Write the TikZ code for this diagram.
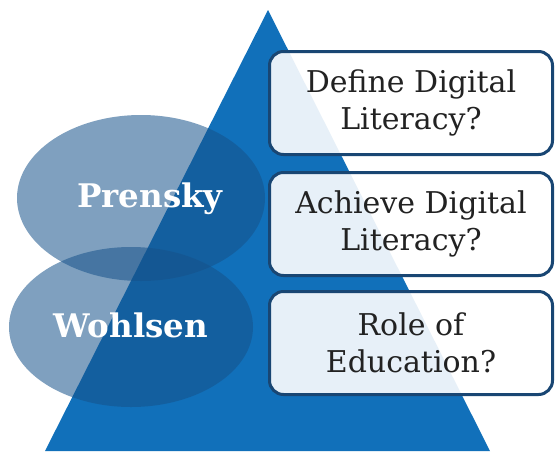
\documentclass[tikz,border=0pt]{standalone}
\usepackage{fontspec}
\setmainfont{DejaVu Serif}
\usetikzlibrary{shapes.geometric}
\definecolor{triblue}{RGB}{17,112,186}
\definecolor{ellblue}{RGB}{22,82,138}
\definecolor{boxline}{RGB}{25,70,115}
\definecolor{txtgray}{RGB}{34,34,34}
\tikzset{
  ellshape/.style={ellipse, fill=ellblue, fill opacity=0.55, draw=none, inner sep=0pt},
  namelabel/.style={text=white, font=\fontsize{32.5}{37}\selectfont\bfseries, inner sep=0pt, anchor=base},
  qbox/.style={draw=boxline, line width=3pt, rounded corners=14pt, fill=white, fill opacity=0.9,
    text opacity=1, text=txtgray, minimum width=283pt, minimum height=103pt, align=center,
    font=\fontsize{30}{37}\selectfont, inner sep=0pt},
}
\begin{document}
\begin{tikzpicture}[x=1pt,y=-1pt]
\useasboundingbox (0,0) rectangle (555,451);
\coordinate (apex) at (268,10);
\coordinate (bl) at (45,451);
\coordinate (br) at (490,451);
\fill[triblue] (apex) -- (br) -- (bl) -- cycle;
\node[ellshape, minimum width=248pt, minimum height=166pt] (prensky) at (141,198) {};
\node[ellshape, minimum width=244pt, minimum height=160pt] (wohlsen) at (131,327) {};
\node[namelabel] (prenskytext) at (150,207) {Prensky};
\node[namelabel] (wohlsentext) at (131,337) {Wohlsen};
\node[qbox] (q1) at (411,103) {Define Digital\\Literacy?};
\node[qbox] (q2) at (411,224) {Achieve Digital\\Literacy?};
\node[qbox] (q3) at (411,343) {Role of\\Education?};
\end{tikzpicture}
\end{document}
